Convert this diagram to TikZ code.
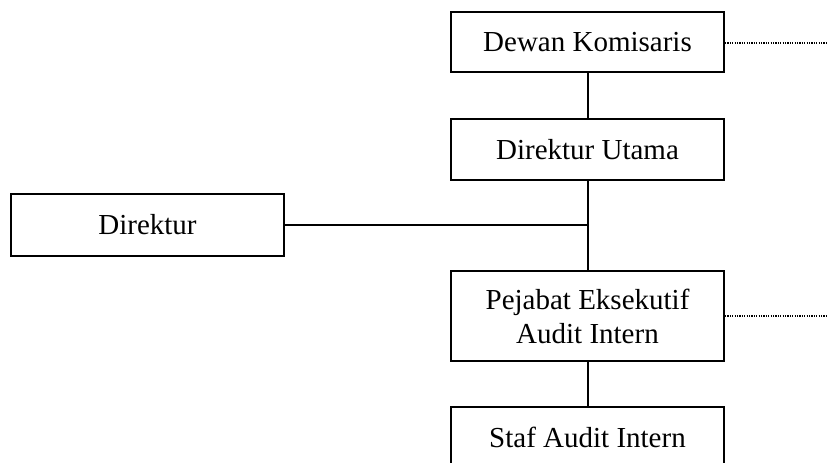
\documentclass[tikz,border=0pt]{standalone}
\usepackage{fontspec}
\setmainfont{Liberation Serif}
\begin{document}
\begin{tikzpicture}[x=1pt,y=-1pt,
  orgbox/.style={draw=black,line width=2pt,inner sep=0pt,minimum width=273pt,align=center,
    font=\fontsize{29}{34}\selectfont},
  conn/.style={draw=black,line width=2pt},
  dotline/.style={draw=black,line width=1.2pt,dash pattern=on 1.2pt off 1.2pt}]
\useasboundingbox (0,0) rectangle (828,463);
\node[orgbox,minimum height=60pt] (dk) at (587.5,42) {Dewan Komisaris};
\node[orgbox,minimum height=61pt] (du) at (587.5,149.5) {Direktur Utama};
\node[orgbox,minimum height=62pt] (dir) at (147.5,225) {Direktur};
\node[orgbox,minimum height=90pt] (pe) at (587.5,316) {Pejabat Eksekutif\\Audit Intern};
\node[orgbox,minimum height=60pt] (sa) at (587.5,437) {Staf Audit Intern};
\coordinate (e1) at (828,43);
\coordinate (e2) at (828,316);
\draw[conn] (dk) -- (du);
\draw[conn] (du) -- (pe);
\draw[conn] (pe) -- (sa);
\draw[conn] (dir.east) -- (dir.east -| du.south);
\draw[dotline] (dk.east |- e1) -- (e1);
\draw[dotline] (pe.east) -- (e2);
\end{tikzpicture}
\end{document}
